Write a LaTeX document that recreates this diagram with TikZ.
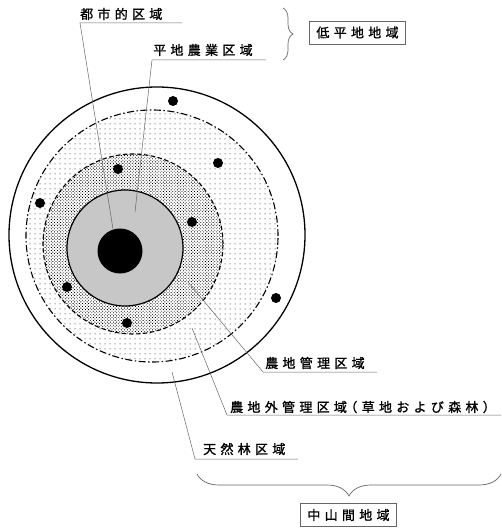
\documentclass[tikz,border=0pt]{standalone}
\usepackage{fontspec}
\newfontfamily\jp[LetterSpace=33, FakeBold=1.2]{Noto Sans CJK JP}
\usetikzlibrary{patterns.meta,decorations.pathreplacing}
\tikzset{
  lbl/.style={font=\jp\fontsize{13pt}{15pt}\selectfont, inner sep=0pt, anchor=west, text=black},
  leader/.style={draw=black!60, line width=0.5pt},
  boxlbl/.style={lbl, draw=black!60, line width=0.7pt, anchor=center, minimum height=23pt, inner xsep=7pt},
  brc/.style={draw=black!60, line width=0.7pt, decorate}
}
\begin{document}
\begin{tikzpicture}[x=1pt,y=-1pt]
\useasboundingbox (0,0) rectangle (501,529);
% circles
\draw[line width=1.3pt, fill=white] (157,235) circle[radius=148pt];
\path[pattern={Dots[distance=5pt, radius=0.5pt]}] (152,236) circle[radius=126pt];
\draw[line width=1.1pt, dash pattern=on 7pt off 2.5pt on 1.5pt off 2.5pt] (152,236) circle[radius=126pt];
\fill[white] (133,244) circle[radius=90pt];
\path[pattern={Dots[distance=2.2pt, angle=45, radius=0.6pt]}] (133,244) circle[radius=90pt];
\draw[line width=1.1pt, dash pattern=on 4.5pt off 2.5pt] (133,244) circle[radius=90pt];
\draw[line width=1.2pt, fill=black!22] (125,248) circle[radius=58pt];
\node[circle, fill=black, minimum size=45pt, inner sep=0pt] (core) at (120,251) {};
% small dots
\foreach \p in {(173,101),(218,163),(118,169),(40,203),(192,222),(276,298),(67,287),(127,323)}
  \fill \p circle[radius=5pt];
% labels
\node[lbl] (toshi) at (80,14) {都市的区域};
\node[lbl] (heichi) at (153,50) {平地農業区域};
\node[boxlbl] (tei) at (357.5,32.5) {低平地地域};
\node[lbl] (nochi) at (265,363) {農地管理区域};
\node[lbl] (nochigai) at (230,407) {農地外管理区域\kern-2.5pt（草地および森林）\kern-10pt};
\node[lbl] (tennen) at (203,449) {天然林区域};
\node[boxlbl] (chusan) at (348.5,515) {中山間地域};
% leaders
\coordinate (a1) at (113,229); \coordinate (a2) at (135,212);
\coordinate (a3) at (188,282); \coordinate (a4) at (192,328);
\coordinate (a5) at (172,372);
\draw[leader] (a1) -- (80,23) -- (182,23);
\draw[leader] (a2) -- (152,60) -- (266,60);
\draw[leader] (a3) -- (263,372) -- (377,372);
\draw[leader] (a4) -- (227,415) -- (501,415);
\draw[leader] (a5) -- (195,459) -- (298,459);
% braces
\draw[brc, decoration={brace, amplitude=10pt}] (283,8) -- (283,60);
\draw[brc, decoration={brace, amplitude=22pt}] (501,474) -- (197,474);
\end{tikzpicture}
\end{document}
